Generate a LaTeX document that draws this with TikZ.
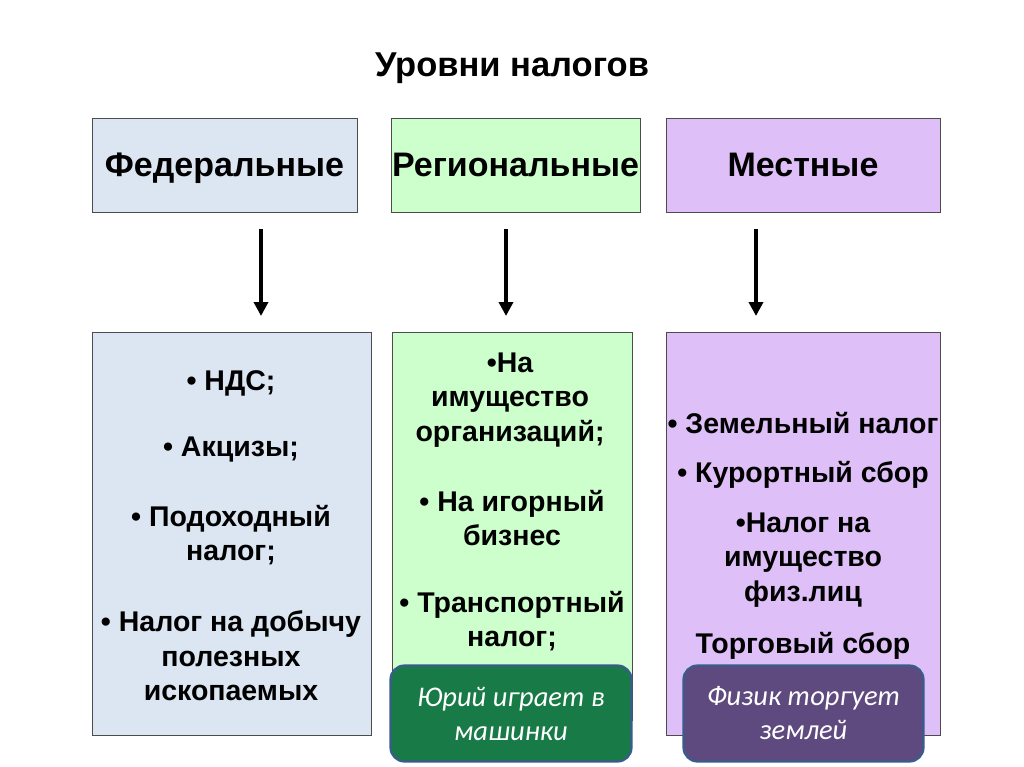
\documentclass[tikz,border=0pt]{standalone}
\usepackage{fontspec}
\setmainfont{Liberation Sans}
\newfontfamily\carl{Carlito}
\usetikzlibrary{arrows.meta}
\definecolor{fedc}{HTML}{DCE6F2}
\definecolor{regc}{HTML}{CCFFCC}
\definecolor{locc}{HTML}{DEBFF7}
\definecolor{grc}{HTML}{177A47}
\definecolor{puc}{HTML}{5E4A7E}
\definecolor{edgec}{HTML}{3A5C8C}
\begin{document}
\begin{tikzpicture}[x=1pt,y=-1pt,
  hdr/.style={font=\fontsize{34}{38}\selectfont\bfseries,anchor=base,inner sep=0pt},
  itm/.style={font=\fontsize{28.5}{34.5}\selectfont\bfseries,align=center,inner sep=0pt},
  tag/.style={draw=edgec,line width=2.2pt,rounded corners=14pt,text=white,align=center,
     font=\carl\itshape\fontsize{28.5}{34}\selectfont,inner sep=0pt},
  box/.style={draw=black!70,line width=0.8pt},
  arr/.style={line width=3.8pt,-{Triangle[length=14pt,width=14pt]}}]
\useasboundingbox (0,0) rectangle (1024,767);
\fill[white] (0,0) rectangle (1024,767);
\node[font=\fontsize{34.5}{38}\selectfont\bfseries,anchor=base,inner sep=0pt] (title) at (512,77) {Уровни налогов};
% top boxes
\draw[box,fill=fedc] (92,118) rectangle (357,212);
\node[hdr] (f) at (224.5,177) {Федеральные};
\draw[box,fill=regc] (391,118) rectangle (640,212);
\node[hdr] (r) at (515.5,177) {Региональные};
\draw[box,fill=locc] (666,118) rectangle (940,212);
\node[hdr] (l) at (803,177) {Местные};
% arrows
\coordinate (fa) at (261,229); \coordinate (fb) at (261,316);
\coordinate (ra) at (506,229); \coordinate (rb) at (506,316);
\coordinate (la) at (756,229); \coordinate (lb) at (756,316);
\draw[arr] (fa) -- (fb);
\draw[arr] (ra) -- (rb);
\draw[arr] (la) -- (lb);
% bottom boxes
\draw[box,fill=fedc] (92,332) rectangle (371,735);
\draw[box,fill=regc] (392,332) rectangle (632,720);
\draw[box,fill=locc] (666,332) rectangle (940,735);
% federal items
\node[itm] (f1) at (231,383) {• НДС;};
\node[itm] (f2) at (231,450) {• Акцизы;};
\node[itm] (f3) at (231,535) {• Подоходный\\налог;};
\node[itm] (f4) at (231,656) {• Налог на добычу\\полезных\\ископаемых};
% regional items
\node[itm] (r1) at (510,400) {•На\\имущество\\организаций;};
\node[itm] (r2) at (512,518) {• На игорный\\бизнес};
\node[itm] (r3) at (512,621) {• Транспортный\\налог;};
% local items
\node[itm] (l1) at (803,423) {• Земельный налог};
\node[itm] (l2) at (803,475) {• Курортный сбор};
\node[itm] (l3) at (803,560) {•Налог на\\имущество\\ физ.лиц};
\node[itm] (l4) at (803,646) {Торговый сбор};
% tags
\node[tag,fill=grc,minimum width=241pt,minimum height=96pt] (g) at (511,713.5) {Юрий играет в\\машинки};
\node[tag,fill=puc,minimum width=240pt,minimum height=96pt] (p) at (803.5,713.5) {Физик торгует\\землей};
\end{tikzpicture}
\end{document}
